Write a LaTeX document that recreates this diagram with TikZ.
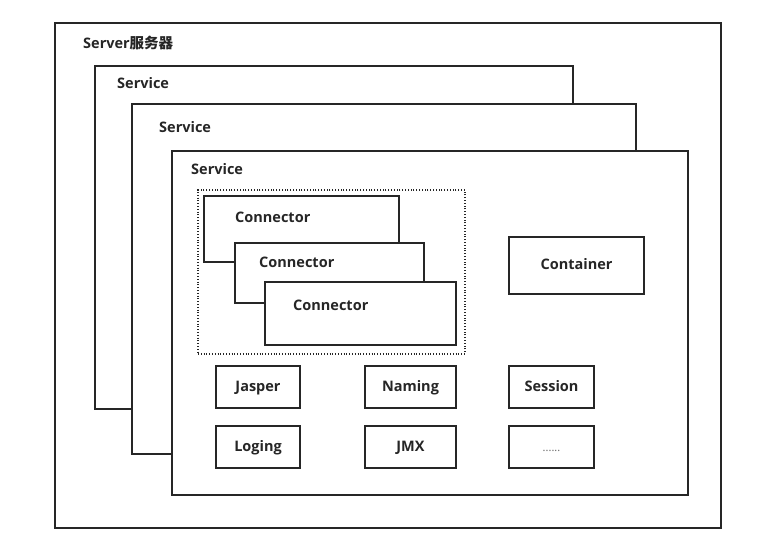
\documentclass[tikz,border=0pt]{standalone}
\usepackage{fontspec}
\setmainfont{Open Sans}
\newfontfamily\cjkfont{Noto Sans CJK SC}
\begin{document}
\begin{tikzpicture}[x=1pt,y=-1pt,
  frame/.style={draw=black!85, line width=2pt, fill=white, rectangle, anchor=north west, inner sep=0pt},
  dotbox/.style={draw=black!85, line width=2pt, dash pattern=on 1pt off 1.8pt, rectangle, anchor=north west, inner sep=0pt},
  lbl/.style={anchor=west, inner sep=0pt, font=\fontsize{14.5}{16}\selectfont\bfseries, text=black!85},
  cl/.style={frame, font=\fontsize{14.5}{16}\selectfont\bfseries, text=black!85, anchor=center, text height=10.5pt, text depth=2.5pt}]
\useasboundingbox[fill=white] (0,0) rectangle (778,552);
\node[frame, minimum width=666pt, minimum height=505pt] (server) at (54,22) {};
\node[lbl] (serverl) at (83,43) {Server\cjkfont 服务器};
\node[frame, minimum width=478pt, minimum height=343pt] (s1) at (94,65) {};
\node[lbl] (s1l) at (117,83) {Service};
\node[frame, minimum width=504pt, minimum height=350pt] (s2) at (131,103) {};
\node[lbl] (s2l) at (159,127) {Service};
\node[frame, minimum width=516pt, minimum height=344pt] (s3) at (171,150) {};
\node[lbl] (s3l) at (191,169) {Service};
\node[dotbox, minimum width=267pt, minimum height=164pt] (dots) at (197,189) {};
\node[frame, minimum width=195pt, minimum height=66pt] (c1) at (203,195) {};
\node[lbl] (c1l) at (235,217) {Connector};
\node[frame, minimum width=189pt, minimum height=60pt] (c2) at (234,242) {};
\node[lbl] (c2l) at (259,262) {Connector};
\node[frame, minimum width=191pt, minimum height=63pt] (c3) at (264,281) {};
\node[lbl] (c3l) at (293,305) {Connector};
\node[cl, minimum width=135pt, minimum height=57pt] (cont) at (576.5,265.5) {Container};
\node[cl, minimum width=84pt, minimum height=42pt] (jasper) at (258,387) {Jasper};
\node[cl, minimum width=91pt, minimum height=42pt] (naming) at (410.5,387) {Naming};
\node[cl, minimum width=85pt, minimum height=42pt] (session) at (551.5,387) {Session};
\node[cl, minimum width=84pt, minimum height=42pt] (loging) at (258,447) {Loging};
\node[cl, minimum width=91pt, minimum height=42pt] (jmx) at (410.5,447) {JMX};
\node[cl, minimum width=85pt, minimum height=42pt, font=\fontsize{11}{12}\selectfont, text=black!60] (etc) at (551.5,447) {......};
\end{tikzpicture}
\end{document}
